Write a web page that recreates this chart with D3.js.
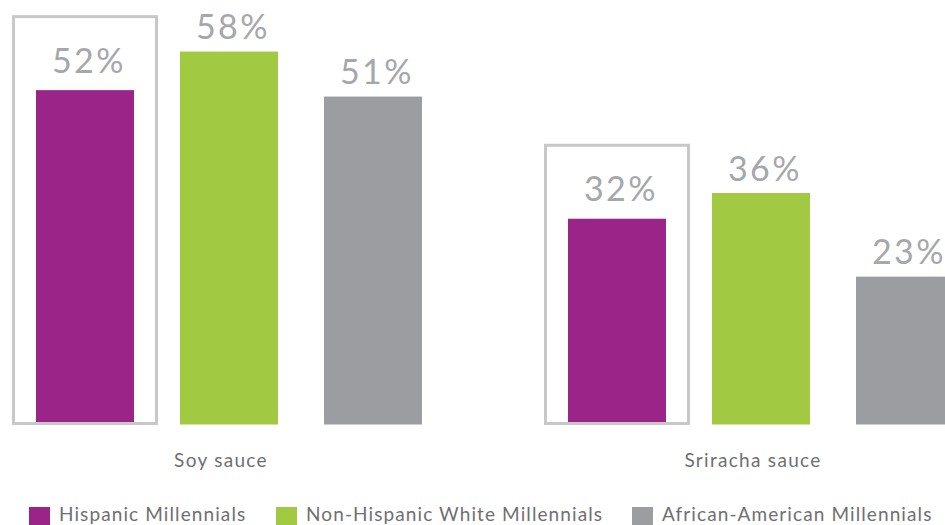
<!DOCTYPE html>
<html>
<head>
<meta charset="utf-8">
<script src="https://cdn.jsdelivr.net/npm/d3@7"></script>
<style>
  html, body { margin: 0; padding: 0; background: #fff; overflow: hidden; }
  svg { display: block; font-family: "Lato", "Open Sans", sans-serif; }
</style>
</head>
<body>
<svg id="chart" width="945" height="525"></svg>
<script>
// Categories and series
const categories = ["Soy sauce", "Sriracha sauce"];
const seriesNames = ["Hispanic Millennials", "Non-Hispanic White Millennials", "African-American Millennials"];

// Share (%) per category, one array per series
const hispanic = [52, 32];
const nonHispanicWhite = [58, 36];
const africanAmerican = [51, 23];

const seriesValues = [hispanic, nonHispanicWhite, africanAmerican];
const seriesColors = ["#9b2489", "#a2c942", "#9c9da1"];
const highlightedSeries = "Hispanic Millennials";

const svg = d3.select("#chart");

// Layout
const baseline = 424.5;
const pxPerPct = 6.43;

const y = d3.scaleLinear().domain([0, 100]).range([baseline, baseline - 100 * pxPerPct]);

const x0 = d3.scaleBand()
  .domain(categories)
  .range([36, 954])
  .paddingInner(146 / 532)
  .paddingOuter(0);

const x1 = d3.scaleBand()
  .domain(seriesNames)
  .range([0, x0.bandwidth()])
  .paddingInner(46 / 144)
  .paddingOuter(0);

const rows = categories.map((c, ci) => ({
  category: c,
  values: seriesNames.map((s, si) => ({ series: s, value: seriesValues[si][ci], color: seriesColors[si] }))
}));

const groups = svg.selectAll("g.group")
  .data(rows)
  .join("g")
  .attr("class", "group")
  .attr("transform", d => `translate(${x0(d.category)},0)`);

// Bars
groups.selectAll("rect.bar")
  .data(d => d.values)
  .join("rect")
  .attr("class", "bar")
  .attr("x", d => x1(d.series))
  .attr("y", d => y(d.value))
  .attr("width", x1.bandwidth())
  .attr("height", d => y(0) - y(d.value))
  .attr("fill", d => d.color);

// Outline box around the highlighted series
const boxPad = 23;
const boxHead = 73.5;
groups.selectAll("rect.highlight")
  .data(d => d.values.filter(v => v.series === highlightedSeries))
  .join("rect")
  .attr("class", "highlight")
  .attr("x", d => x1(d.series) - boxPad + 0.5)
  .attr("y", d => y(d.value) - boxHead)
  .attr("width", x1.bandwidth() + 2 * boxPad - 1)
  .attr("height", d => y(0) - 1 - (y(d.value) - boxHead))
  .attr("fill", "none")
  .attr("stroke", "#c8c8c8")
  .attr("stroke-width", 3);

// Value labels
groups.selectAll("text.value")
  .data(d => d.values)
  .join("text")
  .attr("class", "value")
  .attr("x", d => x1(d.series) + x1.bandwidth() / 2 + 4)
  .attr("y", d => y(d.value) - (d.series === highlightedSeries ? 17.5 : 12.5))
  .attr("text-anchor", "middle")
  .attr("fill", "#a6a7aa")
  .attr("font-size", 34)
  .attr("letter-spacing", 2.5)
  .text(d => d.value + "%");

// Category labels
groups.append("text")
  .attr("class", "category")
  .attr("x", x0.bandwidth() / 2 - 8)
  .attr("y", 466.5)
  .attr("text-anchor", "middle")
  .attr("fill", "#6f6f72")
  .attr("font-size", 19)
  .attr("letter-spacing", 1.3)
  .text(d => d.category);

// Legend
const legendX = [29, 276, 632];
const legend = svg.selectAll("g.legend")
  .data(seriesNames)
  .join("g")
  .attr("class", "legend")
  .attr("transform", (d, i) => `translate(${legendX[i]},507)`);

legend.append("rect")
  .attr("width", 21)
  .attr("height", 21)
  .attr("fill", (d, i) => seriesColors[i]);

legend.append("text")
  .attr("x", 30)
  .attr("y", 13.7)
  .attr("fill", "#6f6f72")
  .attr("font-size", 19)
  .attr("letter-spacing", 1.1)
  .text(d => d);
</script>
</body>
</html>
